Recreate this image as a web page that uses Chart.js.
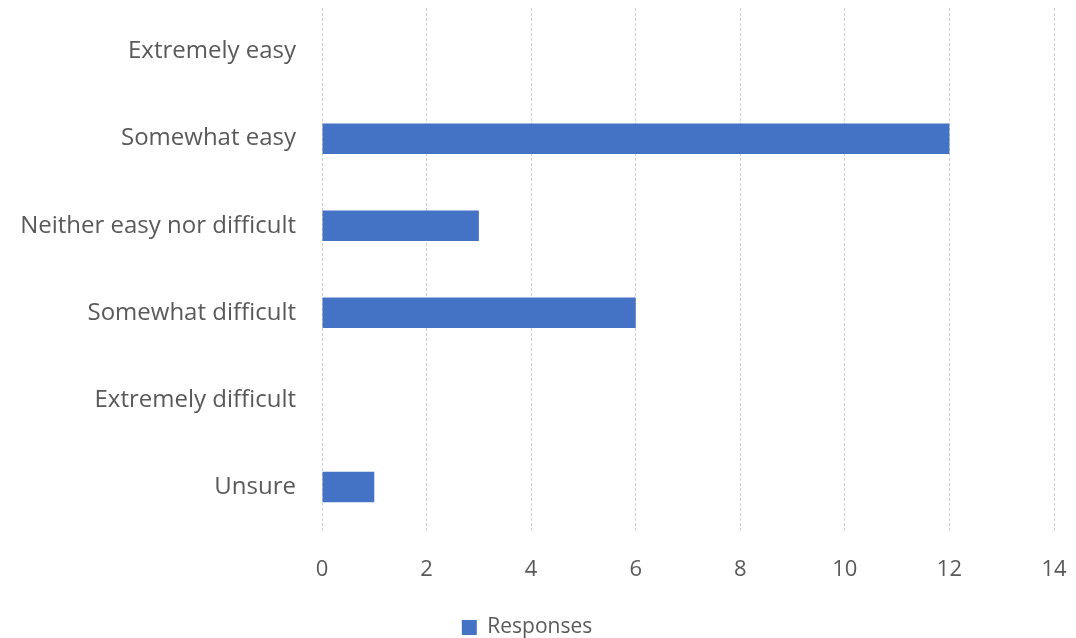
<!DOCTYPE html>
<html>
<head>
<meta charset="utf-8">
<script src="https://cdn.jsdelivr.net/npm/chart.js@4"></script>
<style>
  html, body { margin: 0; padding: 0; background: #fff; }
  #wrap { width: 1076px; height: 638px; }
</style>
</head>
<body>
<div id="wrap"><canvas id="responsesChart"></canvas></div>
<script>
// Survey answers, top to bottom
const categories = ['Extremely easy', 'Somewhat easy', 'Neither easy nor difficult', 'Somewhat difficult', 'Extremely difficult', 'Unsure'];
const responses = [0, 12, 3, 6, 0, 1];
const xTicks = [0, 2, 4, 6, 8, 10, 12, 14];

const textColor = '#595959';
const fontFamily = "'Open Sans', 'Noto Sans', sans-serif";

new Chart(document.getElementById('responsesChart'), {
    type: 'bar',
    data: {
        labels: categories,
        datasets: [{
            label: 'Responses',
            data: responses,
            backgroundColor: '#4472c4',
            borderWidth: 0,
            barPercentage: 0.7,
            categoryPercentage: 0.5
        }]
    },
    options: {
        indexAxis: 'y',
        responsive: true,
        maintainAspectRatio: false,
        animation: false,
        layout: {
            padding: { top: 8, right: 22, left: 0, bottom: -10 }
        },
        plugins: {
            legend: {
                position: 'bottom',
                labels: {
                    color: textColor,
                    font: { family: fontFamily, size: 21 },
                    boxWidth: 15,
                    boxHeight: 15,
                    padding: 8
                }
            },
            tooltip: { enabled: false }
        },
        scales: {
            x: {
                min: 0,
                max: 14,
                afterBuildTicks: function(scale) {
                    scale.ticks = xTicks.map(v => ({ value: v }));
                },
                afterFit: function(scale) {
                    scale.paddingLeft = 0;
                    scale.paddingRight = 0;
                },
                grid: {
                    color: '#d0d0d0',
                    lineWidth: 1,
                    drawTicks: false
                },
                border: { display: false, dash: [3, 2] },
                ticks: {
                    color: textColor,
                    font: { family: fontFamily, size: 22 },
                    padding: 26
                }
            },
            y: {
                grid: { display: false },
                border: { display: false },
                afterFit: function(scale) {
                    scale.width = 322;
                    scale.paddingTop = 0;
                    scale.paddingBottom = 0;
                },
                ticks: {
                    color: textColor,
                    font: { family: fontFamily, size: 24 },
                    padding: 18
                }
            }
        }
    }
});
</script>
</body>
</html>
